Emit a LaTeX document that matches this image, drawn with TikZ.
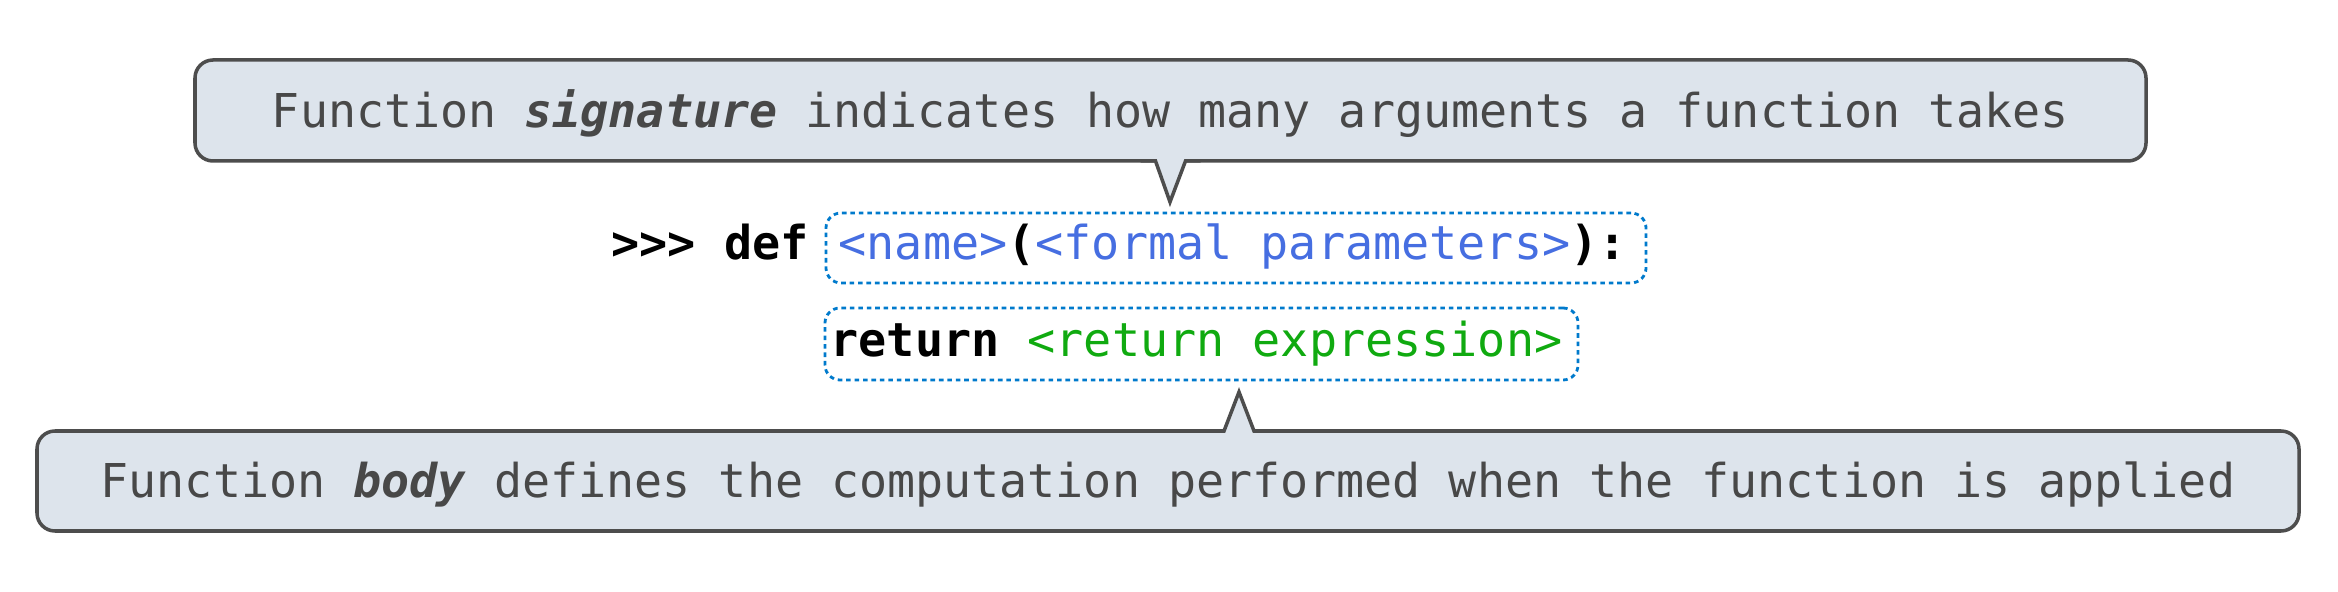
\documentclass[tikz,border=0pt]{standalone}
\usepackage{fontspec}
\usepackage{xcolor}
\newfontfamily\monofam{DejaVu Sans Mono}

\definecolor{calloutfill}{RGB}{221,228,236}
\definecolor{calloutline}{RGB}{77,77,77}
\definecolor{callouttext}{RGB}{72,72,72}
\definecolor{codeline}{RGB}{0,122,204}
\definecolor{namecol}{RGB}{70,110,225}
\definecolor{exprcol}{RGB}{16,170,16}

\tikzset{
    callout/.style={draw=calloutline, fill=calloutfill, line width=1pt,
        rounded corners=0.18cm, inner sep=0pt, outer sep=0pt, text=callouttext,
        font=\monofam\fontsize{13.27}{15}\selectfont,
        text height=0.57cm, text depth=0.23cm},
    pointer/.style={draw=calloutline, line width=1pt, line join=miter},
    codebox/.style={draw=codeline, line width=0.8pt, dash pattern=on 1.3pt off 1.1pt,
        rounded corners=0.15cm, inner sep=0pt},
    code/.style={inner sep=0pt, font=\monofam\fontsize{13.3}{15}\selectfont},
}

\begin{document}
\begin{tikzpicture}
    \useasboundingbox (0,0) rectangle (23.38,5.92);
    % callouts
    \node[callout, minimum width=19.51cm, minimum height=1.01cm] (sigcall) at (11.705,4.815)
        {Function \textbf{\textit{signature}} indicates how many arguments a function takes};
    \node[callout, minimum width=22.62cm, minimum height=1.00cm] (bodycall) at (11.68,1.11)
        {Function \textbf{\textit{body}} defines the computation performed when the function is applied};
    \coordinate (sigtip) at (11.70,3.90);
    \coordinate (bodytip) at (12.39,2.00);
    \fill[calloutfill] ([xshift=-0.15cm,yshift=0.6pt]sigcall.south) -- ([xshift=-0.15cm]sigcall.south) -- (sigtip)
        -- ([xshift=0.15cm]sigcall.south) -- ([xshift=0.15cm,yshift=0.6pt]sigcall.south) -- cycle;
    \draw[pointer] ([xshift=-0.3cm]sigcall.south) -- ([xshift=-0.15cm]sigcall.south) -- (sigtip)
        -- ([xshift=0.15cm]sigcall.south) -- ([xshift=0.3cm]sigcall.south);
    \fill[calloutfill] ([xshift=0.56cm,yshift=-0.6pt]bodycall.north) -- ([xshift=0.56cm]bodycall.north) -- (bodytip)
        -- ([xshift=0.86cm]bodycall.north) -- ([xshift=0.86cm,yshift=-0.6pt]bodycall.north) -- cycle;
    \draw[pointer] ([xshift=0.41cm]bodycall.north) -- ([xshift=0.56cm]bodycall.north) -- (bodytip)
        -- ([xshift=0.86cm]bodycall.north) -- ([xshift=1.01cm]bodycall.north);
    % code
    \node[codebox, minimum width=8.20cm, minimum height=0.70cm] (sigbox) at (12.36,3.44) {};
    \node[codebox, minimum width=7.53cm, minimum height=0.72cm] (retbox) at (12.015,2.48) {};
    \node[code, anchor=base west] (prompt) at (6.11,3.32) {\textbf{>>> def}};
    \node[code, anchor=base west] (sig) at (8.38,3.32)
        {\textcolor{namecol}{<name>}\textbf{(}\textcolor{namecol}{<formal parameters>}\textbf{):}};
    \node[code, anchor=base west] (ret) at (8.30,2.35)
        {\textbf{return} \textcolor{exprcol}{<return expression>}};
\end{tikzpicture}
\end{document}
